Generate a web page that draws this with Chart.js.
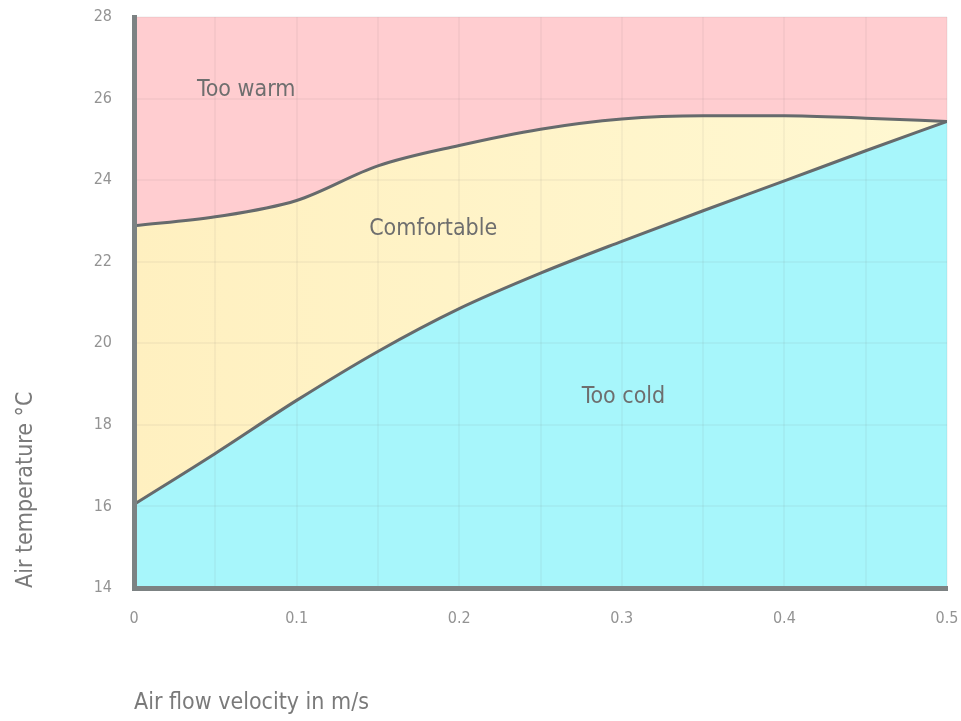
<!DOCTYPE html>
<html>
<head>
<meta charset="utf-8">
<script src="https://cdn.jsdelivr.net/npm/chart.js@4"></script>
<style>
    body { margin: 0; background: #fff; }
    canvas { display: block; }
</style>
</head>
<body>
<canvas id="chart" width="961" height="721"></canvas>
<script>
// air flow velocity (m/s)
const velocity = [0, 0.05, 0.1, 0.15, 0.2, 0.25, 0.3, 0.35, 0.4, 0.45, 0.5];
// upper limit of comfort zone (too warm above)
const upperLimit = [22.88, 23.1, 23.5, 24.35, 24.85, 25.25, 25.5, 25.58, 25.58, 25.52, 25.44];
// lower limit of comfort zone (too cold below)
const lowerLimit = [16.05, 17.3, 18.6, 19.8, 20.85, 21.72, 22.5, 23.25, 23.98, 24.72, 25.44];
const yTicks = [14, 16, 18, 20, 22, 24, 26, 28];
const zoneNames = ['Too warm', 'Comfortable', 'Too cold'];
const zoneX = [0.069, 0.184, 0.301];
const zoneY = [26.2, 22.8, 18.67];

const FONT = "'DejaVu Sans Condensed', 'Liberation Sans Narrow', sans-serif";

function toPoints(ys) {
    return velocity.map((x, i) => ({ x: x, y: ys[i] }));
}

const zoneLabels = {
    id: 'zoneLabels',
    afterDatasetsDraw(chart) {
        const ctx = chart.ctx;
        const xs = chart.scales.x, ys = chart.scales.y;
        ctx.save();
        ctx.fillStyle = '#6e6e6e';
        ctx.font = '23px ' + FONT;
        ctx.textAlign = 'center';
        ctx.textBaseline = 'middle';
        zoneNames.forEach((name, i) => {
            ctx.fillText(name, xs.getPixelForValue(zoneX[i]), ys.getPixelForValue(zoneY[i]));
        });
        ctx.restore();
    }
};

function yellowFill(context) {
    const chart = context.chart;
    const area = chart.chartArea;
    if (!area) return '#fff5c8';
    const g = chart.ctx.createLinearGradient(area.left, 0, area.right, 0);
    g.addColorStop(0, '#fff0c0');
    g.addColorStop(1, '#fff8d2');
    return g;
}

new Chart(document.getElementById('chart'), {
    type: 'line',
    data: {
        datasets: [
            {
                data: toPoints(lowerLimit),
                borderColor: '#666a6c',
                borderWidth: 3,
                backgroundColor: '#a7f6fb',
                fill: 'start',
                pointRadius: 0,
                cubicInterpolationMode: 'monotone'
            },
            {
                data: toPoints(upperLimit),
                borderColor: '#666a6c',
                borderWidth: 3,
                backgroundColor: yellowFill,
                fill: 'start',
                pointRadius: 0,
                cubicInterpolationMode: 'monotone'
            },
            {
                data: toPoints(upperLimit),
                borderWidth: 0,
                backgroundColor: '#ffcdd0',
                fill: 'end',
                pointRadius: 0,
                cubicInterpolationMode: 'monotone'
            }
        ]
    },
    options: {
        responsive: false,
        animation: false,
        layout: { padding: { top: 17, right: 14, left: 0, bottom: 0 } },
        plugins: {
            legend: { display: false },
            tooltip: { enabled: false }
        },
        scales: {
            x: {
                type: 'linear',
                min: 0,
                max: 0.5,
                afterFit: (scale) => {
                    scale.height = 133;
                    scale.paddingLeft = 0;
                    scale.paddingRight = 0;
                },
                grid: { color: 'rgba(100, 100, 100, 0.06)', lineWidth: 2, drawTicks: false, z: 1 },
                border: { color: '#7c8283', width: 5, z: 2 },
                ticks: {
                    stepSize: 0.05,
                    padding: 21,
                    color: '#939393',
                    font: { family: FONT, size: 16 },
                    callback: (v, i) => (i % 2 === 0 ? String(Math.round(v * 10) / 10) : '')
                },
                title: {
                    display: true,
                    text: 'Air flow velocity in m/s',
                    align: 'start',
                    color: '#7a7a7a',
                    font: { family: FONT, size: 23 },
                    padding: { top: 4, bottom: 4 }
                }
            },
            y: {
                min: 14,
                max: 28,
                afterFit: (scale) => {
                    scale.width = 134;
                    scale.paddingTop = 0;
                    scale.paddingBottom = 0;
                },
                afterBuildTicks: (scale) => { scale.ticks = yTicks.map(v => ({ value: v })); },
                grid: { color: 'rgba(100, 100, 100, 0.06)', lineWidth: 2, drawTicks: false, z: 1 },
                border: { color: '#7c8283', width: 5, z: 2 },
                ticks: {
                    padding: 22,
                    color: '#939393',
                    font: { family: FONT, size: 16 }
                },
                title: {
                    display: true,
                    text: 'Air temperature °C',
                    align: 'start',
                    color: '#7a7a7a',
                    font: { family: FONT, size: 23 },
                    padding: { top: 12, bottom: 12 }
                }
            }
        }
    },
    plugins: [zoneLabels]
});
</script>
</body>
</html>
